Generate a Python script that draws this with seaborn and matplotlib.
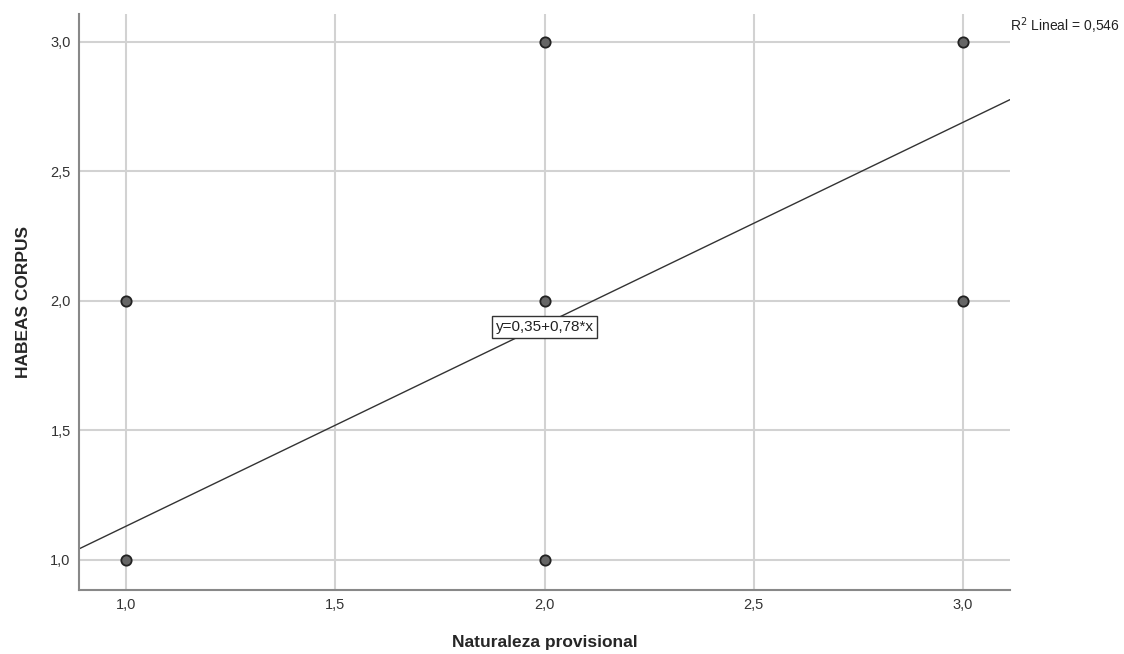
import numpy as np
import pandas as pd
import matplotlib
matplotlib.use('Agg')
import matplotlib.pyplot as plt
import seaborn as sns

# data
naturaleza = [1, 1, 2, 2, 2, 3, 3]
habeas = [1, 2, 1, 2, 3, 2, 3]
intercept = 0.35
slope = 0.78
r2_text = 'R$^2$ Lineal = 0,546'
ticks = [1.0, 1.5, 2.0, 2.5, 3.0]

df = pd.DataFrame({'Naturaleza provisional': naturaleza, 'HABEAS CORPUS': habeas})

sns.set_style('white')
plt.rcParams['font.family'] = ['Liberation Sans', 'DejaVu Sans']

fig = plt.figure(figsize=(11.24, 6.54), dpi=100)
ax = fig.add_axes([0.0703, 0.0979, 0.8283, 0.8807])

ax.set_xlim(0.888, 3.112)
ax.set_ylim(0.884, 3.108)
ax.set_xticks(ticks)
ax.set_yticks(ticks)
ax.set_xticklabels([f'{t:.1f}'.replace('.', ',') for t in ticks])
ax.set_yticklabels([f'{t:.1f}'.replace('.', ',') for t in ticks])
ax.grid(True, color='#d2d2d2', linewidth=1.5)
ax.set_axisbelow(True)

# fit line
ax.axline((0, intercept), slope=slope, color='#333333', linewidth=1.0, zorder=2)

sns.scatterplot(data=df, x='Naturaleza provisional', y='HABEAS CORPUS', ax=ax,
                color='#666666', edgecolor='#222222', linewidth=1.3, s=55, zorder=3)

for side in ['top', 'right']:
    ax.spines[side].set_visible(False)
for side in ['left', 'bottom']:
    ax.spines[side].set_color('#888888')
    ax.spines[side].set_linewidth(1.5)

ax.tick_params(length=0, labelsize=10.5, colors='#333333', pad=6)
ax.set_xlabel('Naturaleza provisional', fontsize=12.5, fontweight='bold', labelpad=16)
ax.set_ylabel('HABEAS CORPUS', fontsize=12.5, fontweight='bold', labelpad=14)

ax.text(2.0, 1.9, 'y=0,35+0,78*x', ha='center', va='center', fontsize=11, color='#222222',
        bbox=dict(boxstyle='square,pad=0.25', facecolor='white', edgecolor='#333333', linewidth=1),
        zorder=4)

fig.text(1010 / 1124, 1 - 26 / 654, r2_text, ha='left', va='center', fontsize=10, color='#222222')

fig.savefig('out.png', dpi=100)
